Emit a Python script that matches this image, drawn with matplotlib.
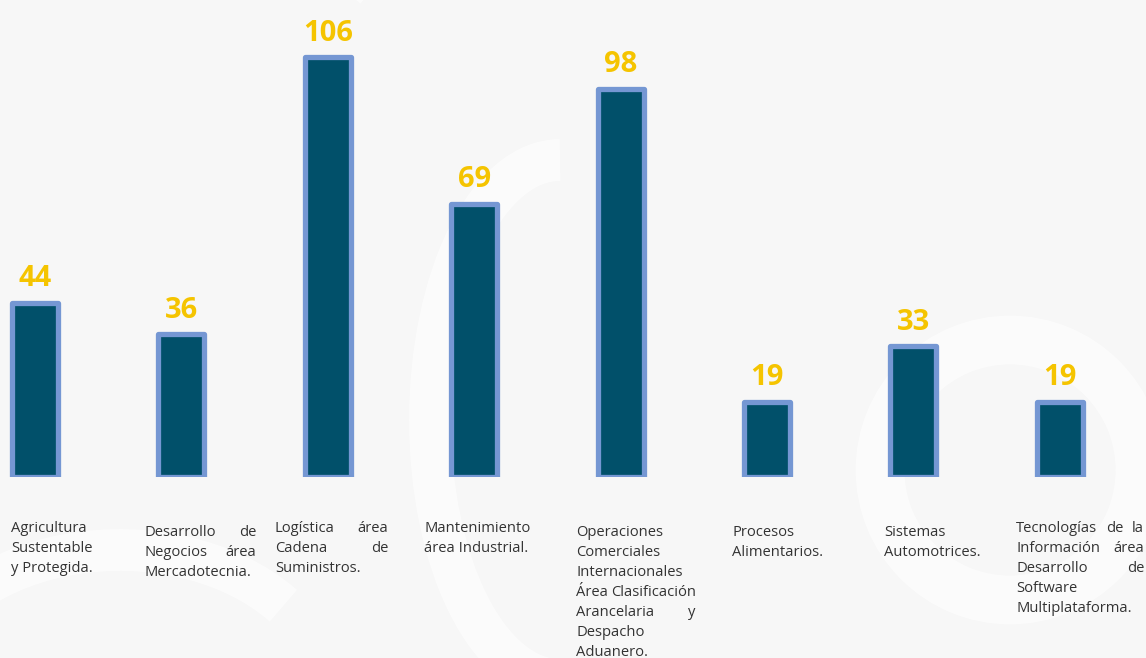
import matplotlib.pyplot as plt
from matplotlib.patches import Arc

categories = [
    "Agricultura\nSustentable\ny Protegida.",
    "Desarrollo de\nNegocios área\nMercadotecnia.",
    "Logística área\nCadena de\nSuministros.",
    "Mantenimiento\nárea Industrial.",
    "Operaciones\nComerciales\nInternacionales\nÁrea Clasificación\nArancelaria y\nDespacho\nAduanero.",
    "Procesos\nAlimentarios.",
    "Sistemas\nAutomotrices.",
    "Tecnologías de la\nInformación área\nDesarrollo de\nSoftware\nMultiplataforma.",
]
values = [44, 36, 106, 69, 98, 19, 33, 19]

W, H = 1146, 658
bg = "#f7f7f7"
fill = "#01506a"
edge = "#7597d3"
gold = "#f5c400"

fig = plt.figure(figsize=(W / 100, H / 100), dpi=100)
fig.patch.set_facecolor(bg)

# faint watermark arcs in the background
wm = fig.add_axes([0, 0, 1, 1])
wm.set_xlim(0, W)
wm.set_ylim(H, 0)
wm.axis("off")
wm.patch.set_alpha(0)
for (cx, cy, w, h, t1, t2, lw) in [
    (760, 60, 900, 420, 190, 360, 40),
    (560, 420, 260, 520, 90, 270, 30),
    (1010, 470, 260, 260, 0, 360, 35),
    (120, 700, 420, 300, 180, 330, 30),
]:
    wm.add_patch(Arc((cx, cy), w, h, theta1=t1, theta2=t2, color="white", lw=lw, alpha=0.6))

# bar axes mapped to pixel geometry
x0, step = 35, 146.4
base_px, px_per_unit = 477, 3.96
ax = fig.add_axes([0, (H - base_px) / H, 1, base_px / H])
ax.set_xlim(-x0 / step, (W - x0) / step)
ax.set_ylim(0, base_px / px_per_unit)
ax.axis("off")
ax.patch.set_alpha(0)

xs = list(range(len(values)))
bars = ax.bar(xs, values, width=0.314, color=fill, edgecolor=edge, linewidth=3.8)
for b in bars:
    b.set_joinstyle("round")
for x, v in zip(xs, values):
    ax.annotate(str(v), (x, v), xytext=(0, 12), textcoords="offset points",
                ha="center", va="baseline", color=gold, fontsize=21,
                fontweight="bold", family="Open Sans")

# justified labels below bars
boxes = [(11, 528, 94), (144, 532, 112), (275, 528, 113), (424, 528, 110),
         (576, 532, 119), (732, 532, 95), (884, 532, 100), (1016, 528, 128)]
renderer = fig.canvas.get_renderer()
tstyle = dict(fontsize=10.6, color="#333333", family="Open Sans", va="center", ha="left")


def px(x, y):
    return x / W, 1 - y / H


for label, (left, top, width) in zip(categories, boxes):
    lines = label.split("\n")
    for i, line in enumerate(lines):
        y = top + 20 * i
        words = line.split(" ")
        last = i == len(lines) - 1
        if last or len(words) == 1:
            fig.text(*px(left, y), line, **tstyle)
            continue
        items = [fig.text(*px(left, y), w, **tstyle) for w in words]
        widths = [t.get_window_extent(renderer).width for t in items]
        gap = max((width - sum(widths)) / (len(words) - 1), 3)
        cur = left
        for t, wd in zip(items, widths):
            t.set_position(px(cur, y))
            cur += wd + gap

fig.savefig("out.png", dpi=100, facecolor=bg)
